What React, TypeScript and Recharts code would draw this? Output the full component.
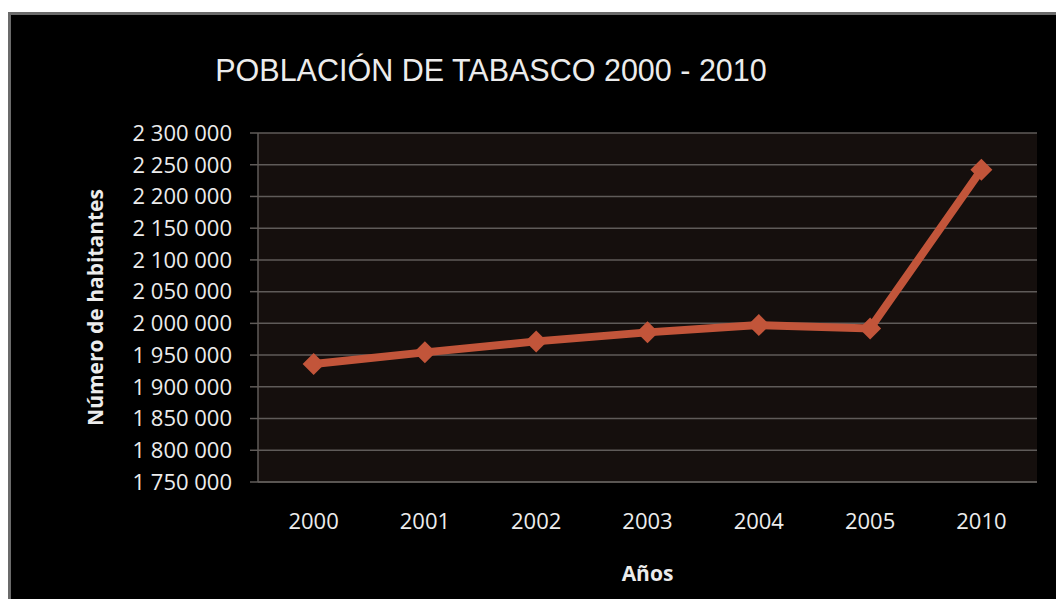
import { CartesianGrid, Label, Line, LineChart, XAxis, YAxis } from "recharts";

const years = ["2000", "2001", "2002", "2003", "2004", "2005", "2010"];
const population = [1935900, 1954300, 1971600, 1985800, 1997300, 1992100, 2242000];
const yTicks = [
  1750000, 1800000, 1850000, 1900000, 1950000, 2000000, 2050000, 2100000, 2150000, 2200000,
  2250000, 2300000
];

const data = years.map((year, i) => ({ year, poblacion: population[i] }));

const LINE_COLOR = "#c2553a";
const GRID_COLOR = "#5f5b59";
const TEXT_COLOR = "#ececec";
const TICK_FONT = "'Open Sans', sans-serif";

function formatThousands(value: number) {
  return String(value).replace(/\B(?=(\d{3})+(?!\d))/g, " ");
}

function Diamond(props: { cx?: number; cy?: number; index?: number }) {
  const { cx, cy, index } = props;
  if (cx == null || cy == null) return null;
  const r = 11;
  return (
    <path
      key={`dot-${index}`}
      d={`M${cx},${cy - r} L${cx + r},${cy} L${cx},${cy + r} L${cx - r},${cy} Z`}
      fill={LINE_COLOR}
    />
  );
}

export default function App() {
  return (
    <>
      <style>{"html, body { overflow: hidden; }"}</style>
      <div
        style={{
          position: "absolute",
          left: 8,
          top: 12,
          width: 1060,
          height: 600,
          background: "#000",
          borderLeft: "3px solid #6b6b6b",
          borderTop: "3px solid #6b6b6b"
        }}
      >
        <div
          style={{
            position: "absolute",
            left: 0,
            top: 40,
            width: 960,
            textAlign: "center",
            fontFamily: "'Liberation Sans', Arial, sans-serif",
            fontSize: 30.5,
            lineHeight: "30px",
            color: TEXT_COLOR,
            whiteSpace: "nowrap"
          }}
        >
          POBLACIÓN DE TABASCO 2000 - 2010
        </div>
        <LineChart
          width={1045}
          height={584}
          data={data}
          margin={{ top: 118, right: 19, bottom: 57, left: 147 }}
        >
          <CartesianGrid
            horizontal
            vertical={false}
            stroke={GRID_COLOR}
            strokeWidth={1.5}
            fill="#150f0d"
            fillOpacity={1}
          />
          <XAxis
            dataKey="year"
            height={60}
            padding={{ left: 55.6, right: 55.6 }}
            axisLine={{ stroke: GRID_COLOR, strokeWidth: 1.5 }}
            tickLine={false}
            tickSize={0}
            tickMargin={31}
            tick={{ fill: TEXT_COLOR, fontSize: 22, fontFamily: TICK_FONT }}
          >
            <Label
              content={({ viewBox }: any) => (
                <text
                  x={viewBox.x + viewBox.width / 2}
                  y={558}
                  textAnchor="middle"
                  dominantBaseline="central"
                  fill={TEXT_COLOR}
                  fontSize={21}
                  fontWeight="bold"
                  fontFamily={TICK_FONT}
                >
                  Años
                </text>
              )}
            />
          </XAxis>
          <YAxis
            width={100}
            domain={[1750000, 2300000]}
            ticks={yTicks}
            interval={0}
            tickFormatter={formatThousands}
            axisLine={{ stroke: GRID_COLOR, strokeWidth: 1.5 }}
            tickLine={{ stroke: GRID_COLOR, strokeWidth: 1.5 }}
            tickSize={8}
            tickMargin={18}
            tick={{ fill: TEXT_COLOR, fontSize: 22, fontFamily: TICK_FONT }}
          >
            <Label
              content={({ viewBox }: any) => {
                const cy = viewBox.y + viewBox.height / 2;
                return (
                  <text
                    x={84}
                    y={cy}
                    transform={`rotate(-90 84 ${cy})`}
                    textAnchor="middle"
                    dominantBaseline="central"
                    fill={TEXT_COLOR}
                    fontSize={21}
                    fontWeight="bold"
                    fontFamily={TICK_FONT}
                  >
                    Número de habitantes
                  </text>
                );
              }}
            />
          </YAxis>
          <Line
            type="linear"
            dataKey="poblacion"
            stroke={LINE_COLOR}
            strokeWidth={8}
            dot={(p: any) => <Diamond key={`d-${p.index}`} {...p} />}
            activeDot={false}
            isAnimationActive={false}
          />
        </LineChart>
      </div>
    </>
  );
}
